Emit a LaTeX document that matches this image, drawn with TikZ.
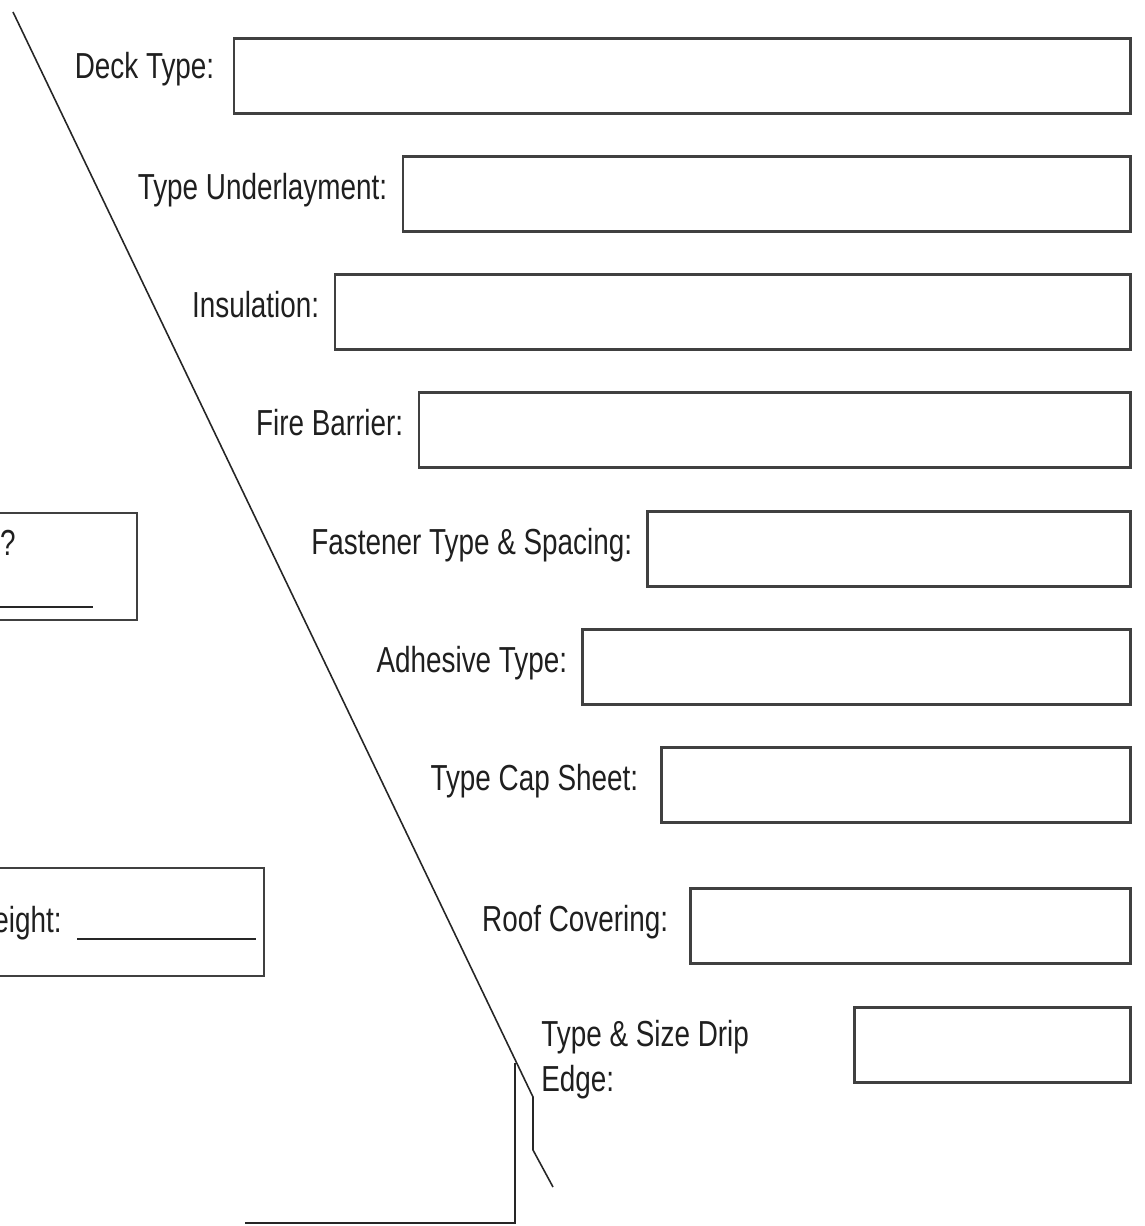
\documentclass[tikz,border=0pt]{standalone}
\usepackage{fontspec}
\setmainfont[FakeStretch=0.77]{Liberation Sans}
\usetikzlibrary{positioning}
\begin{document}
\begin{tikzpicture}[x=0.02cm,y=-0.02cm,fs/.style={draw=black!75,line width=1.5pt,anchor=north east,minimum height=1.5cm,inner sep=0},ts/.style={text=black!88,inner sep=0,font=\fontsize{20.6}{25.5}\selectfont},ls/.style={ts,anchor=base east,xshift=-0.28cm,yshift=-0.12cm},rs/.style={draw=black!85,line width=0.9pt},us/.style={draw=black!85,line width=1.1pt}]
\useasboundingbox (0,0) rectangle (1144,1226);
% fields on the right
\node (deck) [fs,minimum width=17.94cm] at (1132,37) {};
\node (under) [fs,minimum width=14.56cm] at (1132,155) {};
\node (insul) [fs,minimum width=15.92cm] at (1132,273) {};
\node (fire) [fs,minimum width=14.24cm] at (1132,391) {};
\node (fasten) [fs,minimum width=9.66cm] at (1132,510) {};
\node (adhes) [fs,minimum width=10.96cm] at (1132,628) {};
\node (cap) [fs,minimum width=9.38cm] at (1132,746) {};
\node (roof) [fs,minimum width=8.8cm] at (1132,887) {};
\node (drip) [fs,minimum width=5.52cm] at (1132,1006) {};
% labels
\node (deckl) [ls,xshift=-0.08cm,yshift=0.06cm] at (deck.west) {Deck Type:};
\node (underl) [ls] at (under.west) {Type Underlayment:};
\node (insull) [ls] at (insul.west) {Insulation:};
\node (firel) [ls] at (fire.west) {Fire Barrier:};
\node (fastenl) [ls] at (fasten.west) {Fastener Type \& Spacing:};
\node (adhesl) [ls] at (adhes.west) {Adhesive Type:};
\node (capl) [ls,xshift=-0.16cm] at (cap.west) {Type Cap Sheet:};
\node (roofl) [ls,xshift=-0.14cm] at (roof.west) {Roof Covering:};
\node (dripl) [ts,anchor=north west,align=left] at (541,1020) {Type \& Size Drip\\Edge:};
% boxes cut off on the left
\draw[fs] (-20,513) -| (137,620) -- (-20,620);
\node (q) [ts,anchor=base east] at (16,555) {?};
\coordinate (u1a) at (0,607);
\coordinate (u1b) at (93,607);
\draw[us] (u1a) -- (u1b);
\draw[fs] (-20,868) -| (264,976) -- (-20,976);
\node (wt) [ts,anchor=base east] at (62,932) {eight:};
\coordinate (u2a) at (77,939);
\coordinate (u2b) at (256,939);
\draw[us] (u2a) -- (u2b);
% roof edge and wall
\coordinate (r1) at (13,12);
\coordinate (r2) at (533,1097);
\coordinate (r3) at (533,1150);
\coordinate (r4) at (553,1187);
\draw[rs] (r1) -- (r2) -- (r3) -- (r4);
\coordinate (w1) at (515,1063);
\coordinate (w2) at (515,1223);
\coordinate (w3) at (245,1223);
\draw[rs] (w1) -- (w2) -- (w3);
\end{tikzpicture}
\end{document}
